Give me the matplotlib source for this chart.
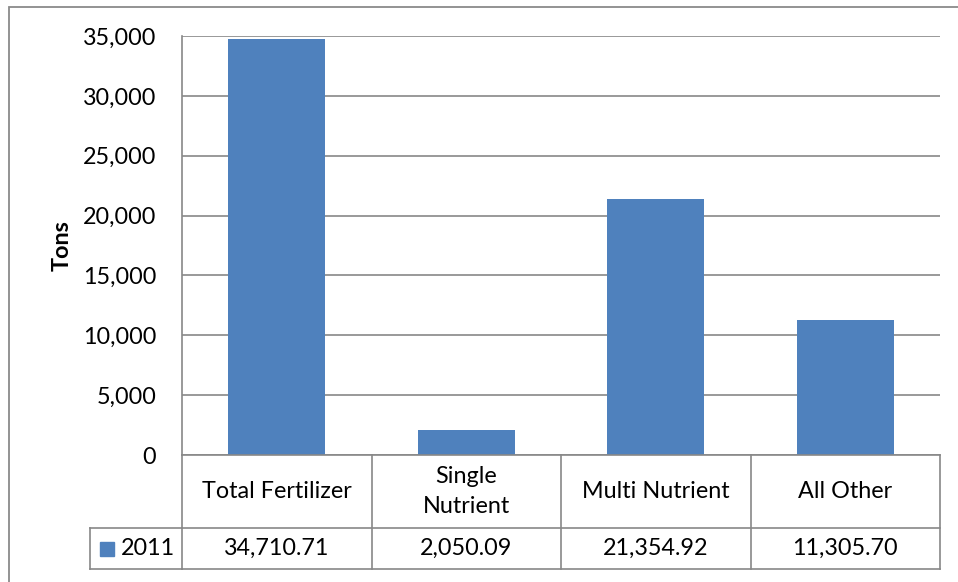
import matplotlib
matplotlib.use("Agg")
import matplotlib.pyplot as plt
from matplotlib.patches import Rectangle
import matplotlib.transforms as mtransforms

categories = ["Total Fertilizer", "Single\nNutrient", "Multi Nutrient", "All Other"]
values = [34710.71, 2050.09, 21354.92, 11305.70]
value_labels = ["34,710.71", "2,050.09", "21,354.92", "11,305.70"]
series_name = "2011"
yticks = [0, 5000, 10000, 15000, 20000, 25000, 30000, 35000]

W, H = 958, 582
BAR = "#4F81BD"
GRID = "#888888"
FONT = ["Lato", "DejaVu Sans"]
FS = 16.8
plt.rcParams['font.family'] = FONT

fig = plt.figure(figsize=(W / 100, H / 100), dpi=100)

# outer chart border
fig.add_artist(Rectangle((9 / W, -0.1), 1.1, (H - 7) / H + 0.1, transform=fig.transFigure,
                         fill=False, edgecolor="#8a8a8a", linewidth=1.3))

left, right, top, bottom = 182, 940, 36, 455
ax = fig.add_axes([left / W, 1 - bottom / H, (right - left) / W, (bottom - top) / H])

x = list(range(len(categories)))
ax.bar(x, values, width=0.51, color=BAR, zorder=3)
ax.set_xlim(-0.5, len(categories) - 0.5)
ax.set_ylim(0, 35000)
ax.set_yticks(yticks)
ax.set_yticklabels([f"{v:,}" for v in yticks], fontsize=FS)
ax.tick_params(axis='y', length=0, pad=18.5)
ax.set_xticks([])
ax.yaxis.grid(True, color=GRID, linewidth=1.2, zorder=0)
for s in ["top", "right", "bottom"]:
    ax.spines[s].set_visible(False)
ax.spines["left"].set_color(GRID)
ax.spines["left"].set_linewidth(1.2)
ax.set_ylabel("Tons", fontsize=FS, fontweight="bold")
ax.yaxis.set_label_coords((73 - left) / (right - left), 0.5)

# data table below
axh = bottom - top
y0 = 0.0
y1 = -(528 - bottom) / axh
y2 = -(569 - bottom) / axh
trans = mtransforms.blended_transform_factory(ax.transData, ax.transAxes)
lkw = dict(color=GRID, linewidth=1.2, clip_on=False, zorder=5)

xb = [i - 0.5 for i in range(len(categories) + 1)]
ax.plot([xb[0], xb[-1]], [y0, y0], transform=trans, **lkw)
ax.plot([xb[0], xb[-1]], [y1, y1], transform=trans, **lkw)
ax.plot([xb[0], xb[-1]], [y2, y2], transform=trans, **lkw)
for b in xb:
    ax.plot([b, b], [y0, y2], transform=trans, **lkw)

# legend cell
lx = (90 - left) / (right - left)
ax.plot([lx, 0], [y1, y1], transform=ax.transAxes, **lkw)
ax.plot([lx, 0], [y2, y2], transform=ax.transAxes, **lkw)
ax.plot([lx, lx], [y1, y2], transform=ax.transAxes, **lkw)

for i, (c, v) in enumerate(zip(categories, value_labels)):
    ax.text(i, (y0 + y1) / 2, c, transform=trans, ha="center", va="center",
            fontsize=FS, linespacing=1.5, clip_on=False)
    ax.text(i, (y1 + y2) / 2, v, transform=trans, ha="center", va="center",
            fontsize=FS, clip_on=False)

sq = 14
ax.add_patch(Rectangle(((100 - left) / (right - left), -(556 - bottom) / axh),
                       sq / (right - left), sq / axh, transform=ax.transAxes,
                       color=BAR, clip_on=False, zorder=6))
ax.text((121 - left) / (right - left), (y1 + y2) / 2, series_name, transform=ax.transAxes,
        ha="left", va="center", fontsize=FS, clip_on=False)

fig.savefig("out.png", dpi=100)
